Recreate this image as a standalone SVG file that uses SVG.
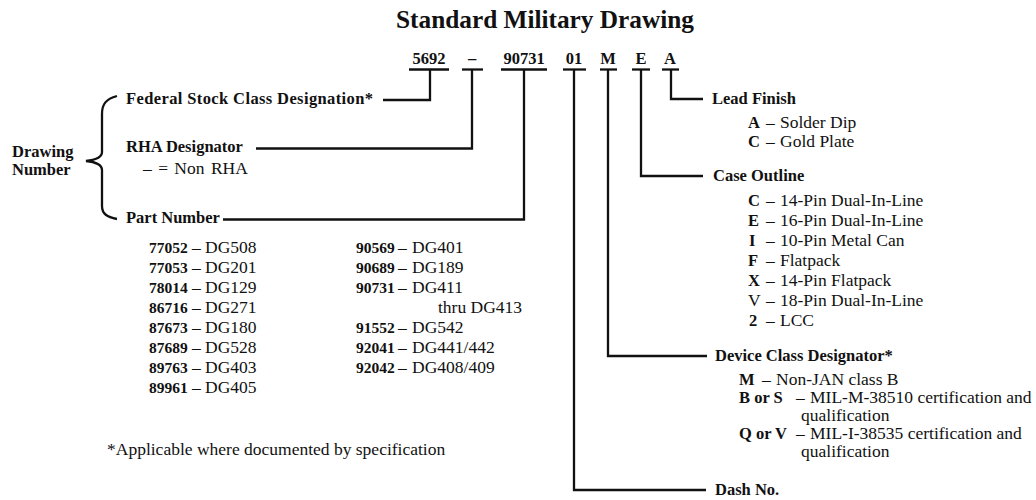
<svg xmlns="http://www.w3.org/2000/svg" width="1036" height="500" viewBox="0 0 1036 500">
<style>
text{font-family:"Liberation Serif","Times New Roman",serif;fill:#111;font-size:17.5px}
.b{font-weight:bold;font-size:16.5px}
.n{font-weight:bold;font-size:15.5px}
.t{font-weight:bold;font-size:25.3px}
.c{font-weight:bold;font-size:16.5px;text-anchor:middle}
.ln{fill:none;stroke:#111;stroke-width:2.3}
.ul{stroke:#111;stroke-width:2.3}
</style>
<rect width="1036" height="500" fill="#fff"/>
<g id="title"><text class="t" x="545" y="28" text-anchor="middle">Standard Military Drawing</text></g>
<g id="code">
<text class="c" x="429" y="64">5692</text>
<text class="c" x="472" y="64">–</text>
<text class="c" x="524" y="64">90731</text>
<text class="c" x="574" y="64">01</text>
<text class="c" x="608" y="64">M</text>
<text class="c" x="641" y="64">E</text>
<text class="c" x="670" y="64">A</text>
<line class="ul" x1="409" y1="69.5" x2="449" y2="69.5"/>
<line class="ul" x1="462" y1="69.5" x2="483" y2="69.5"/>
<line class="ul" x1="501" y1="69.5" x2="547" y2="69.5"/>
<line class="ul" x1="563" y1="69.5" x2="586" y2="69.5"/>
<line class="ul" x1="600" y1="69.5" x2="617" y2="69.5"/>
<line class="ul" x1="632" y1="69.5" x2="650" y2="69.5"/>
<line class="ul" x1="662" y1="69.5" x2="679" y2="69.5"/>
</g>
<g id="connectors">
<polyline class="ln" points="430,69.5 430,100 383,100"/>
<polyline class="ln" points="472,69.5 472,148.5 256,148.5"/>
<polyline class="ln" points="524,69.5 524,219.5 223,219.5"/>
<polyline class="ln" points="574,69.5 574,490 706,490"/>
<polyline class="ln" points="608,69.5 608,356 707,356"/>
<polyline class="ln" points="641,69.5 641,176 703,176"/>
<polyline class="ln" points="671,69.5 671,99 703,99"/>
<path class="ln" d="M117,96 C106,99 102,104 102,114 L102,152 C102,157 95,160 86,161 C95,162 102,165 102,170 L102,206 C102,214 107,217 117,219"/>
</g>
<g id="drawing-number">
<text class="b" x="12" y="157">Drawing</text>
<text class="b" x="12" y="175">Number</text>
</g>
<g id="federal"><text class="b" x="126" y="104" textLength="247" lengthAdjust="spacing">Federal Stock Class Designation*</text></g>
<g id="rha">
<text class="b" x="126" y="152">RHA Designator</text>
<text x="143" y="174" word-spacing="2">– = Non RHA</text>
</g>
<g id="part-number">
<text class="b" x="126" y="223">Part Number</text>
<text y="253"><tspan x="149" class="n">77052</tspan><tspan x="192">–</tspan><tspan x="205">DG508</tspan></text>
<text y="273"><tspan x="149" class="n">77053</tspan><tspan x="192">–</tspan><tspan x="205">DG201</tspan></text>
<text y="293"><tspan x="149" class="n">78014</tspan><tspan x="192">–</tspan><tspan x="205">DG129</tspan></text>
<text y="313"><tspan x="149" class="n">86716</tspan><tspan x="192">–</tspan><tspan x="205">DG271</tspan></text>
<text y="333"><tspan x="149" class="n">87673</tspan><tspan x="192">–</tspan><tspan x="205">DG180</tspan></text>
<text y="353"><tspan x="149" class="n">87689</tspan><tspan x="192">–</tspan><tspan x="205">DG528</tspan></text>
<text y="373"><tspan x="149" class="n">89763</tspan><tspan x="192">–</tspan><tspan x="205">DG403</tspan></text>
<text y="393"><tspan x="149" class="n">89961</tspan><tspan x="192">–</tspan><tspan x="205">DG405</tspan></text>
<text y="253"><tspan x="356" class="n">90569</tspan><tspan x="398">–</tspan><tspan x="412">DG401</tspan></text>
<text y="273"><tspan x="356" class="n">90689</tspan><tspan x="398">–</tspan><tspan x="412">DG189</tspan></text>
<text y="293"><tspan x="356" class="n">90731</tspan><tspan x="398">–</tspan><tspan x="412">DG411</tspan></text>
<text x="438" y="313">thru DG413</text>
<text y="333"><tspan x="356" class="n">91552</tspan><tspan x="398">–</tspan><tspan x="412">DG542</tspan></text>
<text y="353"><tspan x="356" class="n">92041</tspan><tspan x="398">–</tspan><tspan x="412">DG441/442</tspan></text>
<text y="373"><tspan x="356" class="n">92042</tspan><tspan x="398">–</tspan><tspan x="412">DG408/409</tspan></text>
</g>
<g id="footnote"><text x="107" y="455">*Applicable where documented by specification</text></g>
<g id="lead-finish">
<text class="b" x="712" y="104">Lead Finish</text>
<text y="128"><tspan x="748" class="b">A</tspan><tspan x="766">–</tspan><tspan x="780">Solder Dip</tspan></text>
<text y="147"><tspan x="748" class="b">C</tspan><tspan x="766">–</tspan><tspan x="780">Gold Plate</tspan></text>
</g>
<g id="case-outline">
<text class="b" x="713" y="181">Case Outline</text>
<text y="206"><tspan x="748" class="b">C</tspan><tspan x="766">–</tspan><tspan x="780">14-Pin Dual-In-Line</tspan></text>
<text y="226"><tspan x="748" class="b">E</tspan><tspan x="766">–</tspan><tspan x="780">16-Pin Dual-In-Line</tspan></text>
<text y="246"><tspan x="749" class="b">I</tspan><tspan x="766">–</tspan><tspan x="780">10-Pin Metal Can</tspan></text>
<text y="266"><tspan x="748" class="b">F</tspan><tspan x="766">–</tspan><tspan x="780">Flatpack</tspan></text>
<text y="286"><tspan x="748" class="b">X</tspan><tspan x="766">–</tspan><tspan x="780">14-Pin Flatpack</tspan></text>
<text y="306"><tspan x="748">V</tspan><tspan x="766">–</tspan><tspan x="780">18-Pin Dual-In-Line</tspan></text>
<text y="326"><tspan x="749" class="b">2</tspan><tspan x="766">–</tspan><tspan x="780">LCC</tspan></text>
</g>
<g id="device-class">
<text class="b" x="715" y="361">Device Class Designator*</text>
<text y="385"><tspan x="739" class="b">M</tspan><tspan x="762">–</tspan><tspan x="776">Non-JAN class B</tspan></text>
<text y="403"><tspan x="739" class="b">B or S</tspan><tspan x="796">–</tspan><tspan x="810">MIL-M-38510 certification and</tspan></text>
<text x="801" y="421">qualification</text>
<text y="439"><tspan x="739" class="b">Q or V</tspan><tspan x="796">–</tspan><tspan x="810">MIL-I-38535 certification and</tspan></text>
<text x="801" y="457">qualification</text>
</g>
<g id="dash-no"><text class="b" x="715" y="495">Dash No.</text></g>
</svg>
